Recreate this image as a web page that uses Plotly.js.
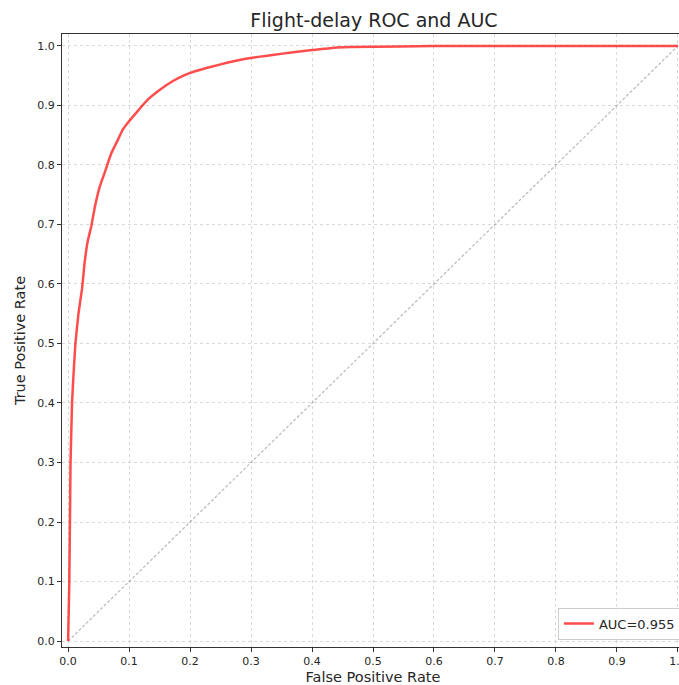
<!DOCTYPE html>
<html>
<head>
<meta charset="utf-8">
<script src="https://cdn.plot.ly/plotly-3.0.1.min.js"></script>
<style>
html, body { margin: 0; padding: 0; overflow: hidden; background: #fff; }
#chart { width: 700px; height: 685px; }
</style>
</head>
<body>
<div id="chart"></div>
<script>
// ROC curve points
const fpr = [0.000, 0.002, 0.003, 0.004, 0.0065, 0.009, 0.012, 0.017, 0.023, 0.027, 0.032, 0.038, 0.044, 0.052, 0.060, 0.071, 0.082, 0.090, 0.098, 0.112, 0.131, 0.150, 0.172, 0.191, 0.207, 0.235, 0.262, 0.289, 0.315, 0.338, 0.366, 0.400, 0.436, 0.463, 0.545, 0.600, 0.700, 0.800, 0.900, 1.000];
const tpr = [0.000, 0.100, 0.200, 0.300, 0.400, 0.450, 0.500, 0.550, 0.593, 0.635, 0.671, 0.697, 0.730, 0.764, 0.787, 0.820, 0.843, 0.860, 0.871, 0.888, 0.910, 0.926, 0.941, 0.951, 0.957, 0.965, 0.972, 0.978, 0.982, 0.985, 0.989, 0.993, 0.997, 0.998, 0.9992, 0.9998, 1.000, 1.000, 1.000, 1.000];
const diagX = [0, 1];
const diagY = [0, 1];
const aucLabel = 'AUC=0.955';
const xTicks = [0, 0.1, 0.2, 0.3, 0.4, 0.5, 0.6, 0.7, 0.8, 0.9, 1.0];
const yTicks = [0, 0.1, 0.2, 0.3, 0.4, 0.5, 0.6, 0.7, 0.8, 0.9, 1.0];

const font = 'DejaVu Sans, sans-serif';

const traces = [
  {
    x: diagX, y: diagY, mode: 'lines', showlegend: false, hoverinfo: 'skip',
    line: { color: 'rgba(128,128,128,0.55)', width: 1.2, dash: '3px,2px' }
  },
  {
    x: fpr, y: tpr, mode: 'lines', name: aucLabel,
    line: { color: 'rgba(255,0,0,0.7)', width: 2.5, shape: 'spline', smoothing: 0.3 }
  }
];

const axisCommon = {
  showline: true, mirror: true, linecolor: '#333', linewidth: 1,
  ticks: 'outside', ticklen: 4, tickwidth: 1, tickcolor: '#333',
  showgrid: true, gridcolor: 'rgba(176,176,176,0.6)', gridwidth: 0.8, griddash: 'dot',
  zeroline: false, tickformat: '.1f',
  tickfont: { family: font, size: 11, color: '#262626' }
};

const layout = {
  width: 700, height: 685,
  margin: { l: 62, r: 16, t: 34, b: 38 },
  paper_bgcolor: '#fff', plot_bgcolor: '#fff',
  font: { family: font, color: '#262626' },
  title: {
    text: 'Flight-delay ROC and AUC',
    font: { family: font, size: 19, color: '#262626' },
    x: 374 / 700, xanchor: 'center', xref: 'container',
    y: 1 - 20 / 685, yanchor: 'middle', yref: 'container'
  },
  xaxis: Object.assign({}, axisCommon, {
    range: [-0.01, 1.01], tickvals: xTicks,
    title: { text: 'False Positive Rate', font: { family: font, size: 14.5, color: '#262626' }, standoff: 4 }
  }),
  yaxis: Object.assign({}, axisCommon, {
    range: [-0.01, 1.02], tickvals: yTicks,
    title: { text: 'True Positive Rate', font: { family: font, size: 14.5, color: '#262626' }, standoff: 8 }
  }),
  showlegend: true,
  legend: {
    x: 0.995, xanchor: 'right', y: 0.012, yanchor: 'bottom',
    bgcolor: 'rgba(255,255,255,0.8)', bordercolor: '#ccc', borderwidth: 1,
    font: { family: font, size: 13, color: '#262626' }
  }
};

Plotly.newPlot('chart', traces, layout, { displayModeBar: false, staticPlot: true });
</script>
</body>
</html>
